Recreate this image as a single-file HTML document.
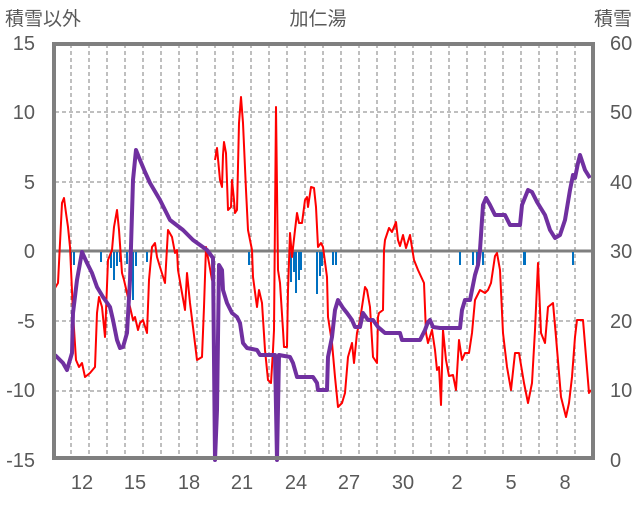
<!DOCTYPE html>
<html><head><meta charset="utf-8"><style>
body{margin:0;background:#fff}
text{font-family:"Liberation Sans","Noto Sans CJK JP",sans-serif;fill:#595959}
</style></head><body>
<svg width="636" height="501" viewBox="0 0 636 501" xmlns="http://www.w3.org/2000/svg">
<rect width="636" height="501" fill="#fff"/>
<g stroke="#7f7f7f" stroke-width="1" stroke-dasharray="4,3">
<line x1="55" y1="112" x2="592" y2="112"/><line x1="55" y1="182" x2="592" y2="182"/>
<line x1="55" y1="321" x2="592" y2="321"/><line x1="55" y1="391" x2="592" y2="391"/>
<path d="M71 44V457M89 44V457M107 44V457M125 44V457M143 44V457M161 44V457M179 44V457M197 44V457M215 44V457M233 44V457M251 44V457M269 44V457M287 44V457M305 44V457M323 44V457M341 44V457M359 44V457M377 44V457M395 44V457M413 44V457M431 44V457M449 44V457M467 44V457M485 44V457M503 44V457M521 44V457M539 44V457M557 44V457M575 44V457"/>
</g>
<line x1="55" y1="251" x2="592" y2="251" stroke="#7f7f7f" stroke-width="3"/>
<g fill="#0070c0">
<rect x="70" y="252" width="2" height="13"/><rect x="73" y="252" width="2" height="13"/>
<rect x="100" y="252" width="2" height="10"/><rect x="110" y="252" width="2" height="16"/><rect x="113" y="252" width="2" height="28"/><rect x="116" y="252" width="2" height="14"/><rect x="119" y="252" width="2" height="10"/>
<rect x="126" y="252" width="2" height="12"/><rect x="129" y="252" width="2" height="14"/><rect x="132" y="252" width="2" height="48"/><rect x="135" y="252" width="2" height="14"/>
<rect x="146" y="252" width="2" height="10"/><rect x="248" y="252" width="2" height="13"/>
<rect x="290" y="252" width="2" height="30"/><rect x="293" y="252" width="2" height="20"/><rect x="295" y="252" width="2" height="41"/><rect x="298" y="252" width="2" height="28"/><rect x="300" y="252" width="2" height="18"/>
<rect x="316" y="252" width="2" height="42"/><rect x="319" y="252" width="2" height="24"/><rect x="321" y="252" width="2" height="14"/>
<rect x="332" y="252" width="2" height="13"/><rect x="335" y="252" width="2" height="13"/>
<rect x="459" y="252" width="2" height="13"/><rect x="472" y="252" width="2" height="13"/><rect x="476" y="252" width="2" height="13"/><rect x="482" y="252" width="2" height="13"/>
<rect x="523" y="252" width="3" height="13"/><rect x="572" y="252" width="2" height="13"/>
</g>
<g fill="none" stroke="#ff0000" stroke-width="2" stroke-linejoin="round">
<polyline points="55,288 58,283 62,203 64,198 66,213 68,227 70,247 73,313 76,360 79,367 82,363 85,377 90,373 95,367 97,313 99,297 102,307 105,337 108,260 112,250 114,227 117,210 119,230 122,273 124,280 127,293 130,307 133,320 135,317 138,330 140,323 143,320 147,333 149,280 152,247 155,243 157,257 160,267 165,283 168,230 172,237 175,253 177,250 178,270 182,293 185,310 187,273 190,303 193,327 197,360 202,357 204,307 206,247 209,263 212,280 213,263"/>
<polyline points="215,160 217,148 220,180 222,187 223,155 224,142 226,153 228,210 231,207 232,180 234,200 235,213 237,210 239,123 241,97 243,123 246,190 248,230 252,250 253,277 257,307 259,290 262,303 265,350 268,380 271,383 273,350 274,330 276,107 278,270 280,283 283,330 284,347 287,347 288,290 290,233 292,257 295,230 297,213 299,223 302,223 305,200 307,197 308,207 311,187 314,188 316,207 318,247 321,243 323,247 327,277 328,317 332,343 335,377 338,407 342,403 345,393 348,357 352,343 354,363 357,333 360,320 365,287 367,290 370,307 373,357 377,363 378,317 379,313 383,310 384,250 385,240 389,228 392,232 396,222 398,240 400,246 403,235 406,248 410,235 414,260 418,270 424,283 426,333 428,343 432,330 435,350 437,370 439,367 441,405 443,330 446,360 449,376 453,375 456,390 459,340 462,360 465,353 469,353 472,333 475,300 480,290 485,293 488,290 491,283 495,256 497,253 500,270 503,333 507,367 511,390 515,353 519,353 524,383 528,403 532,383 535,330 538,263 541,333 545,343 548,307 553,303 556,337 561,397 566,417 569,403 572,377 575,337 577,320 583,320 589,393 591,390"/>
</g>
<polyline fill="none" stroke="#7030a0" stroke-width="4" stroke-linejoin="round" points="55,355 63,363 67,370 72,353 73,313 77,280 82,252 87,263 92,273 97,287 103,297 110,307 113,320 117,340 120,348 123,347 127,333 130,280 133,180 136,150 140,160 145,172 150,183 160,200 170,220 183,230 193,240 207,250 213,258 215,460 217,410 219,265 222,270 223,290 227,303 232,313 237,317 240,323 243,343 247,348 257,350 260,355 275,355 277,460 279,355 290,357 293,363 297,377 313,377 317,383 318,390 327,390 328,357 332,337 335,310 338,300 343,308 347,313 352,320 355,327 360,327 363,313 368,320 373,320 378,327 385,333 400,333 402,340 420,340 425,330 428,322 430,320 433,327 440,328 460,328 462,310 465,300 470,300 473,285 475,275 478,265 480,250 483,205 486,198 490,205 495,215 505,215 510,225 520,225 522,205 528,190 532,192 537,202 545,215 550,230 555,238 560,235 565,220 570,190 573,175 575,178 578,163 580,155 585,170 590,178"/>
<rect x="54" y="44" width="539" height="414" fill="none" stroke="#7f7f7f" stroke-width="4"/>
<g font-size="19">
<text x="5" y="25">積雪以外</text><text x="318" y="25" text-anchor="middle">加仁湯</text><text x="632" y="25" text-anchor="end">積雪</text>
</g>
<g font-size="20" text-anchor="end">
<text x="35" y="50">15</text><text x="35" y="119">10</text><text x="35" y="189">5</text><text x="35" y="258">0</text><text x="35" y="328">-5</text><text x="35" y="397">-10</text><text x="35" y="467">-15</text>
</g>
<g font-size="20" text-anchor="start">
<text x="610" y="50">60</text><text x="610" y="119">50</text><text x="610" y="189">40</text><text x="610" y="258">30</text><text x="610" y="328">20</text><text x="610" y="397">10</text><text x="610" y="467">0</text>
</g>
<g font-size="20" text-anchor="middle">
<text x="82" y="489">12</text><text x="135" y="489">15</text><text x="189" y="489">18</text><text x="242" y="489">21</text><text x="296" y="489">24</text><text x="349" y="489">27</text><text x="403" y="489">30</text><text x="457" y="489">2</text><text x="511" y="489">5</text><text x="565" y="489">8</text>
</g>
</svg>
</body></html>
